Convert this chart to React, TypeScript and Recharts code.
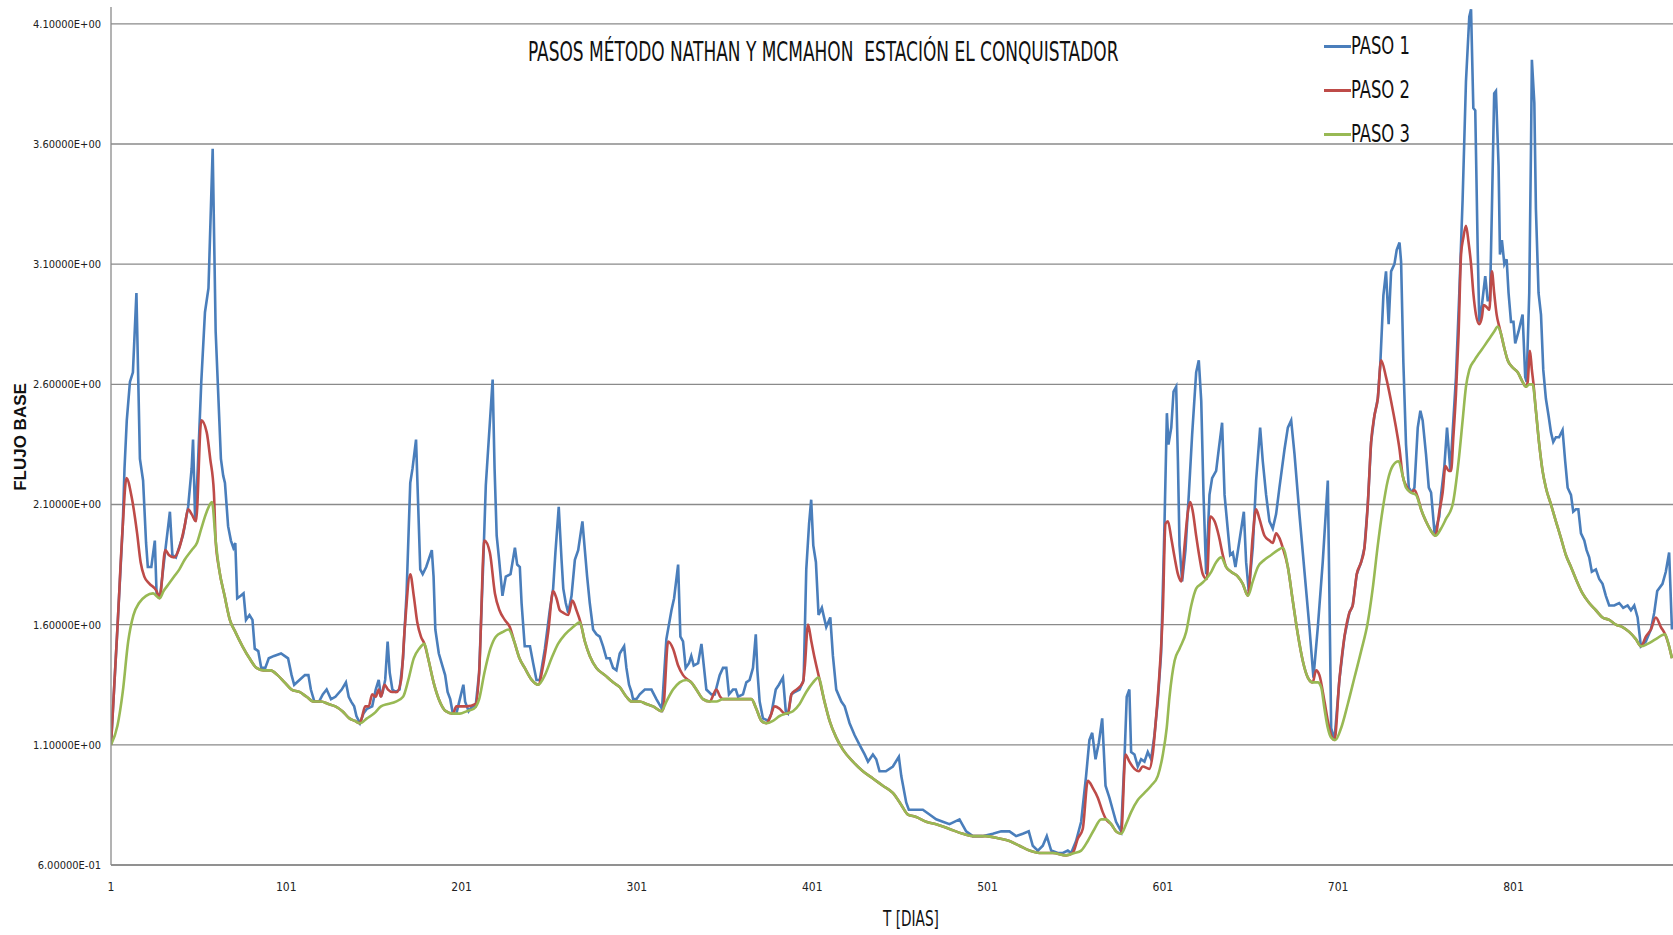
import { LineChart, Line, XAxis, YAxis, CartesianGrid } from "recharts";

// días vs flujo base (sólo los puntos donde cambia la forma)
const PASO3: [number, number][] = [
  [1, 1.1], [4.7, 1.18], [7.7, 1.32], [10.8, 1.53], [13.8, 1.64], [17, 1.69], [21, 1.72], [25, 1.73],
  [28.7, 1.71], [31, 1.74], [34, 1.77], [37, 1.8], [40, 1.83], [43, 1.87], [47, 1.91], [50, 1.94],
  [52.5, 2.0], [55.6, 2.07], [58.6, 2.11], [60.7, 1.95], [62.7, 1.83], [65.8, 1.72], [68.8, 1.62],
  [71.9, 1.57], [76, 1.51], [80, 1.46], [84, 1.42], [88, 1.41], [92, 1.41], [96, 1.39], [100, 1.36],
  [104, 1.33], [108.5, 1.32], [112.6, 1.3], [116.7, 1.28], [120.8, 1.28], [125, 1.27], [129, 1.26],
  [133, 1.24], [137, 1.21], [140, 1.2], [143, 1.19], [147, 1.21], [151, 1.23], [155, 1.26], [159, 1.27],
  [163.5, 1.28], [167.6, 1.3], [170.6, 1.37], [173.7, 1.46], [176.8, 1.5], [179.8, 1.52], [181.9, 1.46],
  [185, 1.36], [188, 1.29], [192, 1.24], [196, 1.23], [200, 1.23], [204, 1.24], [208, 1.25], [211, 1.29],
  [214, 1.4], [217.4, 1.5], [220.5, 1.55], [224.6, 1.57], [227.7, 1.58], [231, 1.53], [234, 1.46],
  [237, 1.42], [241, 1.37], [244.7, 1.35], [248.5, 1.39], [252.3, 1.46], [256, 1.52], [260, 1.56],
  [264.6, 1.59], [268.4, 1.61], [271.3, 1.53], [274.1, 1.47], [277.9, 1.42], [282.7, 1.39], [287.4, 1.36],
  [291.2, 1.34], [295, 1.3], [298, 1.28], [302.6, 1.28], [306.4, 1.27], [310.2, 1.26], [315, 1.24],
  [317.8, 1.28], [321.6, 1.33], [325.4, 1.36], [329.2, 1.37], [332, 1.36], [334.9, 1.33], [338.7, 1.29],
  [342.5, 1.28], [346.3, 1.28], [350.1, 1.29], [355.8, 1.29], [361.5, 1.29], [366.3, 1.29], [369.1, 1.25],
  [372, 1.2], [374.8, 1.19], [378.6, 1.2], [382.4, 1.22], [386.2, 1.23], [390, 1.24], [393.8, 1.27],
  [397.6, 1.32], [401.5, 1.36], [404.5, 1.38], [408, 1.28], [410.9, 1.2], [414.7, 1.13], [418.5, 1.08],
  [424.2, 1.03], [429.9, 0.99], [435.6, 0.96], [441.3, 0.93], [447, 0.9], [451.8, 0.85], [455.6, 0.81],
  [460.3, 0.8], [466, 0.78], [471.7, 0.77], [479.3, 0.75], [486.9, 0.73], [492.6, 0.72], [500, 0.72],
  [507.8, 0.71], [513.5, 0.7], [519.2, 0.68], [524.9, 0.66], [530.6, 0.65], [538.2, 0.65], [545.8, 0.64],
  [550.6, 0.65], [554.4, 0.66], [558.2, 0.7], [562, 0.75], [565.8, 0.79], [568.6, 0.79], [571.5, 0.77],
  [574.3, 0.74], [577.2, 0.73], [580, 0.77], [582.9, 0.82], [586.7, 0.87], [590.5, 0.9], [594.3, 0.93],
  [598.1, 0.97], [601, 1.06], [603.2, 1.17], [604.8, 1.3], [607.7, 1.45], [610.5, 1.5], [614.3, 1.57],
  [617.2, 1.68], [620, 1.75], [622.9, 1.77], [625.7, 1.79], [628.6, 1.82], [631.4, 1.86], [634.3, 1.88],
  [637.1, 1.84], [639.9, 1.82], [643.8, 1.8], [646.6, 1.77], [649.5, 1.72], [652.3, 1.78], [655.2, 1.84],
  [659, 1.87], [662.8, 1.89], [666.6, 1.91], [669.4, 1.92], [672.3, 1.84], [675.1, 1.7], [678, 1.56],
  [680.8, 1.45], [683.7, 1.38], [686.5, 1.36], [689.4, 1.36], [691.3, 1.34], [693.2, 1.25], [695.1, 1.17],
  [697, 1.13], [699.4, 1.12], [702.7, 1.17], [706.5, 1.27], [710.3, 1.38], [714.1, 1.49], [717.9, 1.61],
  [720.7, 1.75], [723.6, 1.93], [726.4, 2.08], [729.3, 2.2], [732.1, 2.26], [735.5, 2.28], [737.8, 2.22],
  [739.7, 2.17], [742.6, 2.15], [745.4, 2.14], [748.3, 2.08], [751.1, 2.03], [754, 1.99], [756.5, 1.97],
  [759.7, 2.0], [762.5, 2.04], [766.3, 2.1], [769.7, 2.28], [772, 2.45], [773.9, 2.59], [775.8, 2.66],
  [778.7, 2.7], [781.5, 2.73], [784.4, 2.76], [787.2, 2.79], [790, 2.82], [792, 2.84], [793.9, 2.81],
  [795.8, 2.75], [797.7, 2.7], [800.5, 2.67], [803.4, 2.65], [806.2, 2.61], [808.1, 2.59], [810, 2.6],
  [811.9, 2.6], [813.8, 2.49], [815.7, 2.35], [817.6, 2.24], [819.5, 2.17], [822.4, 2.1], [825.2, 2.03],
  [828.1, 1.96], [830.9, 1.89], [833.8, 1.84], [836.6, 1.79], [840.4, 1.73], [844.2, 1.69], [848, 1.66],
  [851.8, 1.63], [855.6, 1.62], [859.4, 1.6], [863.2, 1.59], [867, 1.57], [870.8, 1.54], [873.7, 1.51],
  [877.5, 1.52], [882.2, 1.54], [887.5, 1.56], [889.4, 1.52], [891.4, 1.46],
];

// paso 2: sólo los tramos donde se separa del paso 3
const PASO2_PROPIO: [number, number][] = [
  [1, 1.1], [4.7, 1.59], [7.7, 2.01], [9.8, 2.21], [12.8, 2.13], [15.9, 1.98], [17.9, 1.86], [20, 1.8],
  [23, 1.77], [27, 1.74], [28.7, 1.71], [32, 1.91], [34, 1.89], [37, 1.88], [40, 1.92], [43, 2.01],
  [45, 2.08], [47, 2.06], [49.5, 2.03], [52.5, 2.45], [55.6, 2.4], [57.6, 2.29], [59.7, 2.15],
  [143, 1.19], [144, 1.21], [146, 1.26], [148, 1.26], [150, 1.31], [152, 1.3], [153.7, 1.33], [155, 1.3],
  [157, 1.35], [159, 1.33], [161.5, 1.32], [164, 1.32], [166.5, 1.37], [168.6, 1.59], [171.7, 1.81],
  [173.7, 1.72], [175.7, 1.61], [177.8, 1.55], [179.8, 1.52],
  [198, 1.26], [200, 1.26], [204, 1.26], [209, 1.27], [211, 1.4], [214, 1.95], [217.1, 1.9], [220, 1.73],
  [222.6, 1.66], [225.6, 1.62], [228.5, 1.59],
  [247.5, 1.43], [250.4, 1.57], [253.2, 1.74], [255.1, 1.71], [257, 1.66], [258.9, 1.65], [261.8, 1.64],
  [264.2, 1.7], [266.5, 1.66], [268.8, 1.61],
  [316, 1.25], [318.8, 1.53], [321.6, 1.5], [324.5, 1.43], [327.3, 1.39], [330.2, 1.37],
  [346.3, 1.33], [348.5, 1.3],
  [376.7, 1.21], [379.6, 1.26], [382.4, 1.25], [385.3, 1.23], [387.2, 1.23], [389.1, 1.31], [392, 1.33],
  [395.7, 1.36], [396.7, 1.42], [398.6, 1.6], [400.5, 1.53], [402.4, 1.46], [404.9, 1.38],
  [549.6, 0.65], [552.5, 0.71], [555.3, 0.75], [558.2, 0.95], [561.1, 0.92], [563.9, 0.88], [566.7, 0.82],
  [579.7, 1.06], [581.9, 1.03], [584.8, 1.0], [587.3, 0.99], [589.5, 1.01], [593.3, 1.0], [595.2, 1.06],
  [597.1, 1.21], [599, 1.39], [601, 1.66], [602.5, 2.02], [603.9, 2.03], [605.8, 1.96], [607.7, 1.88],
  [609.6, 1.81], [611.5, 1.78], [613.4, 1.93], [615.3, 2.07], [616.6, 2.11], [618.1, 2.07], [620, 1.97],
  [621.9, 1.88], [623.8, 1.81], [626.1, 1.79], [628, 2.05], [630.5, 2.03], [632.9, 1.97], [635.2, 1.89],
  [652.3, 1.97], [654.2, 2.08], [656.1, 2.04], [659, 1.97], [661.8, 1.95], [663.7, 1.94], [665.6, 1.98],
  [667.5, 1.96], [669.4, 1.92],
  [688.4, 1.41], [690.3, 1.39], [693.2, 1.28], [695.1, 1.2], [697, 1.14], [698.9, 1.12], [701.7, 1.37],
  [704.6, 1.55], [707.4, 1.65], [709.3, 1.68], [711.6, 1.81], [714.1, 1.86], [716, 1.92], [717.9, 2.1],
  [719.8, 2.36], [721.7, 2.47], [723.6, 2.54], [725.5, 2.7], [728.3, 2.63], [731.2, 2.53], [734, 2.42],
  [736, 2.33], [737.8, 2.22], [739.7, 2.18], [742.6, 2.15], [744.5, 2.16], [746.4, 2.13],
  [758.7, 2.07], [760.6, 2.15], [762.2, 2.26], [764.1, 2.24], [765.4, 2.24], [766.7, 2.38], [768.2, 2.56],
  [769.7, 2.81], [771.1, 3.14], [772.4, 3.21], [773.9, 3.26], [775.4, 3.19], [776.8, 3.1], [778.1, 2.98],
  [779.6, 2.89], [781.5, 2.85], [783, 2.88], [784, 2.93], [785.9, 2.92], [787.2, 2.91], [788.7, 3.07],
  [790, 2.98], [791.4, 2.89], [792.9, 2.84],
  [809.1, 2.61], [810.4, 2.74], [811.5, 2.66], [812.3, 2.61],
  [876.5, 1.55], [879.4, 1.58], [882.2, 1.63], [885.1, 1.59], [887.5, 1.56], [889.4, 1.52], [891.4, 1.46],
];
// tramos (días) en que el paso 2 coincide con el paso 3
const PASO2_IGUAL_PASO3: [number, number][] = [
  [60, 141], [181, 197], [229, 245], [269.5, 315.5], [331, 343], [349, 375.5], [405, 549],
  [567.5, 578], [636, 651], [670, 687], [747, 757.5], [793.5, 808.5], [813, 874],
];

const PASO1_PROPIO: [number, number][] = [
  [8.7, 2.25], [10, 2.45], [11.8, 2.61], [13.5, 2.65], [15.5, 2.98], [17.5, 2.29], [19.3, 2.2], [21, 1.94],
  [22, 1.84], [24, 1.84], [26, 1.95], [27, 1.73], [29, 1.72], [32, 1.91], [34.6, 2.07], [36, 1.89],
  [38, 1.88], [42, 1.97], [45, 2.09], [47, 2.25], [47.8, 2.37], [49, 2.03], [50.5, 2.25], [52.5, 2.61],
  [54.6, 2.9], [56.6, 3.0], [59, 3.58], [60.7, 2.82], [63.7, 2.29], [65, 2.22], [66, 2.19], [67.8, 2.01],
  [69.4, 1.95], [70.8, 1.92], [71.9, 1.94], [73, 1.71], [75, 1.72], [76.6, 1.73], [78, 1.62], [80, 1.64],
  [81.7, 1.62], [83, 1.5], [85, 1.49], [86.7, 1.42], [89, 1.42], [91, 1.46], [94, 1.47], [98, 1.48],
  [100, 1.47], [102, 1.46], [104, 1.39], [105.5, 1.35], [108.5, 1.37], [111.6, 1.39], [113.6, 1.39],
  [115, 1.33], [117, 1.28], [119.7, 1.28], [121.8, 1.31], [124, 1.33], [126.5, 1.29], [129, 1.3],
  [132.6, 1.33], [135, 1.36], [136.6, 1.3], [138, 1.28], [139.7, 1.26], [141, 1.22], [143, 1.19],
  [145, 1.23], [147, 1.25], [150, 1.26], [152, 1.33], [153.7, 1.37], [155, 1.3], [156, 1.32],
  [157.4, 1.37], [158.8, 1.53], [160, 1.4], [161.5, 1.33], [163.5, 1.32], [165.6, 1.33], [167.6, 1.46],
  [169.6, 1.73], [171.7, 2.19], [173, 2.25], [175, 2.37], [177.4, 1.83], [178.8, 1.81], [180.8, 1.84],
  [184, 1.91], [185, 1.8], [186, 1.58], [188, 1.48], [190, 1.43], [191.6, 1.39], [193, 1.32],
  [194.5, 1.29], [196, 1.23], [198, 1.23], [200, 1.29], [202, 1.35], [203, 1.28], [205, 1.24],
  [207, 1.26], [209, 1.26], [211, 1.4], [213.4, 1.87], [214.8, 2.18], [218.7, 2.62], [219.8, 2.25],
  [221, 1.97], [222.4, 1.87], [224.3, 1.72], [226.2, 1.8], [228.9, 1.81], [231.4, 1.92], [232.7, 1.85],
  [234.2, 1.84], [235.2, 1.69], [237, 1.51], [240, 1.51], [241.8, 1.44], [243.7, 1.37], [245.6, 1.37],
  [248.5, 1.5], [251.3, 1.66], [253.2, 1.75], [254.5, 1.9], [256.4, 2.09], [258, 1.87], [259, 1.75],
  [260.4, 1.69], [261.8, 1.65], [263.7, 1.72], [265.6, 1.87], [267.5, 1.91], [269.9, 2.03], [271.3, 1.91],
  [272.6, 1.8], [274.1, 1.69], [276, 1.58], [277.9, 1.56], [279.8, 1.55], [281.7, 1.51], [283.6, 1.46],
  [285.5, 1.46], [287.4, 1.42], [289.3, 1.41], [291.2, 1.48], [293.7, 1.51], [295, 1.42], [296.5, 1.35],
  [297.9, 1.32], [298.8, 1.29], [300.7, 1.29], [302.6, 1.31], [305.5, 1.33], [309.3, 1.33], [312.1, 1.29],
  [315.3, 1.25], [317.8, 1.54], [320.7, 1.66], [322.2, 1.71], [324.5, 1.85], [325.8, 1.55], [327.3, 1.53],
  [328.8, 1.42], [330.7, 1.44], [332, 1.47], [333.4, 1.43], [335.9, 1.44], [337.8, 1.52], [338.7, 1.46],
  [340.6, 1.33], [343.5, 1.31], [345.4, 1.31], [348.2, 1.39], [350.1, 1.42], [352, 1.42], [353.5, 1.31],
  [355.8, 1.33], [357.4, 1.33], [358.7, 1.3], [361.5, 1.31], [363.4, 1.36], [365.3, 1.37], [367.2, 1.42],
  [368.8, 1.56], [369.7, 1.41], [371, 1.28], [372.9, 1.21], [375.8, 1.2], [377.7, 1.23], [380.2, 1.33],
  [382, 1.35], [384.3, 1.38], [385.9, 1.24], [387.2, 1.23], [389.1, 1.31], [391, 1.32], [393.8, 1.33],
  [396.1, 1.37], [397.6, 1.83], [399.2, 2.02], [400.4, 2.12], [401.6, 1.93], [403.1, 1.86], [404.6, 1.64],
  [406.5, 1.67], [409, 1.59], [411.3, 1.63], [412.8, 1.47], [414.7, 1.33], [417.6, 1.28], [419.5, 1.26],
  [422.3, 1.19], [425.2, 1.14], [428, 1.1], [430.9, 1.06], [432.8, 1.03], [435.6, 1.06], [437.5, 1.04],
  [439.4, 0.99], [443, 0.99], [447, 1.01], [450.4, 1.05], [451.8, 0.97], [454.6, 0.86], [456.1, 0.83],
  [460.3, 0.83], [464.1, 0.83], [467.9, 0.81], [471.7, 0.79], [475.5, 0.78], [479.3, 0.77], [485, 0.79],
  [488.8, 0.74], [492.6, 0.72], [498, 0.72], [504, 0.73], [508.8, 0.74], [513.5, 0.74], [517.3, 0.72],
  [521.1, 0.73], [524.5, 0.74], [526.8, 0.68], [529.7, 0.66], [532.5, 0.68], [534.8, 0.72], [537.3, 0.66],
  [541.1, 0.65], [544, 0.65], [546.8, 0.66], [548.7, 0.65], [551.5, 0.7], [554.4, 0.78], [557.2, 0.97],
  [559.1, 1.12], [560.7, 1.15], [562.6, 1.04], [564.5, 1.11], [566.4, 1.21], [568.3, 0.93], [570.5, 0.88],
  [572.4, 0.83], [574.3, 0.78], [577.2, 0.74], [579.1, 1.04], [580.4, 1.3], [581.9, 1.33], [582.9, 1.07],
  [584.8, 1.06], [586.7, 1.01], [588.6, 1.04], [590.5, 1.03], [592.4, 1.07], [594.3, 1.04], [596.2, 1.14],
  [598.1, 1.28], [600, 1.48], [601.3, 1.83], [602, 2.04], [603.3, 2.48], [604.2, 2.35], [605.8, 2.42],
  [607.1, 2.57], [608.6, 2.59], [609.6, 2.28], [610.5, 1.93], [612, 1.78], [613.9, 1.91], [615.8, 2.14],
  [617.7, 2.39], [620, 2.65], [621.5, 2.7], [622.9, 2.53], [624.2, 2.14], [625.7, 1.81], [627.6, 2.14],
  [629.1, 2.21], [631.4, 2.24], [632.9, 2.33], [634.8, 2.44], [636.2, 2.14], [638.1, 1.99], [639.4, 1.89],
  [640.9, 1.9], [642.4, 1.84], [644.7, 1.95], [647.2, 2.07], [648.5, 1.86], [650, 1.74], [652.3, 1.92],
  [654.2, 2.2], [656.5, 2.42], [658, 2.28], [659.9, 2.14], [661.8, 2.03], [663.7, 2.0], [665.6, 2.06],
  [667.5, 2.17], [670.4, 2.33], [672.3, 2.42], [674.2, 2.45], [676.1, 2.31], [678.9, 2.06], [681.8, 1.82],
  [684.6, 1.59], [686.9, 1.38], [689.4, 1.59], [692.2, 1.86], [695.1, 2.2], [696, 1.73], [697, 1.17],
  [725, 2.68], [726.8, 2.97], [728.3, 3.07], [729.8, 2.85], [731.2, 3.07], [733.1, 3.1], [734.4, 3.16],
  [736, 3.19], [736.9, 3.11], [738.2, 2.69], [739.7, 2.35], [741.3, 2.17], [743.1, 2.15], [744.5, 2.17],
  [746.4, 2.42], [747.9, 2.49], [749.2, 2.45], [751.1, 2.31], [752.7, 2.17], [754, 2.15], [756, 1.98],
  [758.7, 2.05], [759.7, 2.14], [761.6, 2.26], [763.1, 2.42], [765, 2.24], [766.3, 2.4], [768.2, 2.63],
  [770.1, 2.98], [772, 3.37], [773.9, 3.86], [775.8, 4.13], [776.8, 4.16], [778.1, 3.75], [779.2, 3.74],
  [780.6, 3.16], [781.5, 2.86], [783, 2.93], [784.9, 3.05], [786.3, 2.95], [787.6, 2.95], [788.7, 3.33],
  [790, 3.81], [791, 3.82], [792.5, 3.51], [793.3, 3.14], [794.4, 3.2], [795.8, 3.1], [797.1, 3.12],
  [798.2, 2.98], [799.6, 2.86], [801, 2.86], [802, 2.77], [803.9, 2.82], [806.2, 2.89], [807.7, 2.63],
  [808.5, 2.61], [810, 2.98], [811, 3.59], [811.5, 3.95], [812.9, 3.77], [813.8, 3.33], [815.3, 2.98],
  [816.7, 2.89], [818, 2.66], [819.5, 2.54], [821, 2.47], [822.4, 2.4], [823.7, 2.36], [825.2, 2.38],
  [827, 2.38], [829, 2.41], [830.5, 2.28], [831.9, 2.17], [833.8, 2.14], [835.1, 2.07], [836.6, 2.08],
  [838, 2.08], [839.5, 1.98], [841.4, 1.95], [842.7, 1.91], [844.2, 1.88], [845.7, 1.82], [848, 1.83],
  [849.9, 1.79], [851.8, 1.77], [853.7, 1.72], [855.6, 1.68], [858.5, 1.68], [861.3, 1.69], [863.6, 1.67],
  [866.1, 1.68], [868, 1.66], [869.9, 1.68], [871.8, 1.63], [873.7, 1.51], [876.5, 1.53], [879.4, 1.58],
  [881.3, 1.65], [883, 1.74], [886, 1.77], [887.9, 1.82], [889.8, 1.9], [891.4, 1.58],
];
// tramos en que el paso 1 coincide con el paso 2
const PASO1_IGUAL_PASO2: [number, number][] = [[0, 8], [698, 724]];

const X_TICKS = [1, 101, 201, 301, 401, 501, 601, 701, 801];
const Y_TICKS = [0.6, 1.1, 1.6, 2.1, 2.6, 3.1, 3.6, 4.1];

const SERIES_NAMES = ["PASO 1", "PASO 2", "PASO 3"];
const COLORS = ["#4A7EBB", "#BE4B48", "#98B954"];

type Punto = { day: number; flow: number };

const toPuntos = (pares: [number, number][]): Punto[] =>
  pares.map(([day, flow]) => ({ day, flow }));

const conTramos = (
  propio: Punto[],
  fuente: Punto[],
  tramos: [number, number][],
): Punto[] =>
  [
    ...propio,
    ...fuente.filter((p) => tramos.some(([a, b]) => p.day >= a && p.day <= b)),
  ].sort((a, b) => a.day - b.day);

const paso3 = toPuntos(PASO3);
const paso2 = conTramos(toPuntos(PASO2_PROPIO), paso3, PASO2_IGUAL_PASO3);
const paso1 = conTramos(toPuntos(PASO1_PROPIO), paso2, PASO1_IGUAL_PASO2);
const seriesData = [paso1, paso2, paso3];

const sci = (v: number) => {
  const [m, e] = v.toExponential(5).split("e");
  const sign = e.startsWith("-") ? "-" : "+";
  return `${m}E${sign}${e.replace(/[+-]/, "").padStart(2, "0")}`;
};

const NARROW = "'Liberation Sans Narrow', 'DejaVu Sans Condensed', 'Liberation Sans', sans-serif";
const GRID = "#8a8a8a";

export default function App() {
  return (
    <div
      style={{
        position: "absolute",
        left: 0,
        top: 0,
        width: 1673,
        height: 935,
        overflow: "hidden",
        background: "#fff",
      }}
    >
      <LineChart
        width={1673}
        height={935}
        margin={{ top: 7, right: 0, left: 0, bottom: 0 }}
      >
        <CartesianGrid
          stroke={GRID}
          strokeWidth={1.3}
          vertical={false}
          horizontalValues={Y_TICKS}
        />
        <XAxis
          dataKey="day"
          type="number"
          domain={[1, 892]}
          allowDataOverflow
          ticks={X_TICKS}
          height={70}
          tickLine={false}
          tickSize={0}
          tickMargin={17}
          stroke={GRID}
          strokeWidth={1.3}
          tick={{ fill: "#222", fontSize: 12, fontFamily: NARROW }}
        />
        <YAxis
          type="number"
          domain={[0.6, 4.17]}
          allowDataOverflow
          ticks={Y_TICKS}
          width={111}
          tickLine={false}
          tickSize={0}
          tickMargin={10}
          tickFormatter={sci}
          stroke={GRID}
          strokeWidth={1.3}
          tick={{ fill: "#222", fontSize: 11, fontFamily: NARROW }}
        />
        {seriesData.map((data, i) => (
          <Line
            key={SERIES_NAMES[i]}
            data={data}
            dataKey="flow"
            name={SERIES_NAMES[i]}
            type={i === 0 ? "linear" : "monotone"}
            stroke={COLORS[i]}
            strokeWidth={2.6}
            dot={false}
            activeDot={false}
            isAnimationActive={false}
          />
        ))}
      </LineChart>

      <div
        style={{
          position: "absolute",
          left: 528,
          top: 39,
          fontFamily: NARROW,
          fontSize: 26,
          lineHeight: "26px",
          color: "#111",
          whiteSpace: "pre",
          transform: "scaleX(0.727)",
          transformOrigin: "left center",
        }}
      >
        PASOS MÉTODO NATHAN Y MCMAHON  ESTACIÓN EL CONQUISTADOR
      </div>

      {SERIES_NAMES.map((name, i) => (
        <div
          key={name}
          style={{
            position: "absolute",
            left: 1324,
            top: 46 + i * 44 - 12,
            height: 24,
            display: "flex",
            alignItems: "center",
          }}
        >
          <div style={{ width: 27, height: 3, background: COLORS[i] }} />
          <div
            style={{
              fontFamily: NARROW,
              fontSize: 24,
              lineHeight: "24px",
              color: "#111",
              transform: "scaleX(0.76)",
              transformOrigin: "left center",
              whiteSpace: "pre",
            }}
          >
            {name}
          </div>
        </div>
      ))}

      <div
        style={{
          position: "absolute",
          left: 883,
          top: 908,
          fontFamily: NARROW,
          fontSize: 22,
          lineHeight: "22px",
          color: "#111",
          whiteSpace: "pre",
          transform: "scaleX(0.69)",
          transformOrigin: "left center",
        }}
      >
        T [DIAS]
      </div>

      <div
        style={{
          position: "absolute",
          left: 20,
          top: 437,
          fontFamily: "'Liberation Sans', Arial, sans-serif",
          fontWeight: 700,
          fontSize: 17,
          lineHeight: "17px",
          color: "#111",
          whiteSpace: "pre",
          transform: "translate(-50%, -50%) rotate(-90deg)",
        }}
      >
        FLUJO BASE
      </div>
    </div>
  );
}
